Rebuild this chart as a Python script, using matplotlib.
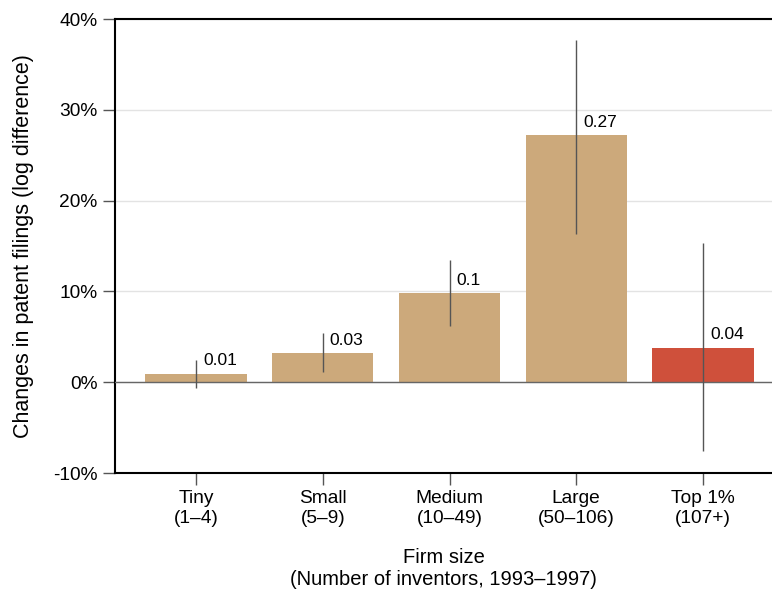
import matplotlib
matplotlib.use("Agg")
import matplotlib.pyplot as plt
from matplotlib.ticker import FuncFormatter

categories = ["Tiny\n(1–4)", "Small\n(5–9)", "Medium\n(10–49)", "Large\n(50–106)", "Top 1%\n(107+)"]
values = [0.009, 0.032, 0.098, 0.272, 0.038]
err_low = [-0.006, 0.011, 0.062, 0.163, -0.076]
err_high = [0.025, 0.054, 0.135, 0.377, 0.153]
labels = ["0.01", "0.03", "0.1", "0.27", "0.04"]
colors = ["#CCA97B", "#CCA97B", "#CCA97B", "#CCA97B", "#CF503B"]

plt.rcParams['font.family'] = ['Liberation Sans', 'DejaVu Sans']

fig = plt.figure(figsize=(7.72, 5.92), dpi=100)
ax = fig.add_axes([115/772, (592-473)/592, 1 - 115/772, (473-19)/592])

x = list(range(len(categories)))
ax.bar(x, values, width=0.8, color=colors, zorder=2)
ax.axhline(0, color="#666666", lw=1.0, zorder=3)
ax.vlines(x, err_low, err_high, color="#555555", lw=1.0, zorder=4)
for xi, v, lab in zip(x, values, labels):
    ax.annotate(lab, (xi, v), xytext=(5, 4), textcoords="offset points",
                ha="left", va="bottom", fontsize=12.5, color="black", zorder=5)

ax.set_xlim(-0.64, 4.545)
ax.set_ylim(-0.10, 0.40)
ax.set_yticks([-0.1, 0, 0.1, 0.2, 0.3, 0.4])
ax.yaxis.set_major_formatter(FuncFormatter(lambda v, p: f"{round(v*100):d}%"))
ax.set_xticks(x)
ax.set_xticklabels(categories)
ax.grid(axis="y", color="#e3e3e3", lw=1.0, zorder=0)
ax.set_axisbelow(True)

for s in ["top", "left", "bottom"]:
    ax.spines[s].set_linewidth(1.5)
    ax.spines[s].set_color("black")
ax.spines["right"].set_visible(False)

ax.tick_params(axis="both", length=8.5, width=1.0, color="#555555", labelsize=13.8, pad=4)
ax.set_ylabel("Changes in patent filings (log difference)", fontsize=15.5, labelpad=14)
ax.set_xlabel("Firm size\n(Number of inventors, 1993–1997)", fontsize=14.5, labelpad=15)

fig.savefig("out.png", dpi=100)
